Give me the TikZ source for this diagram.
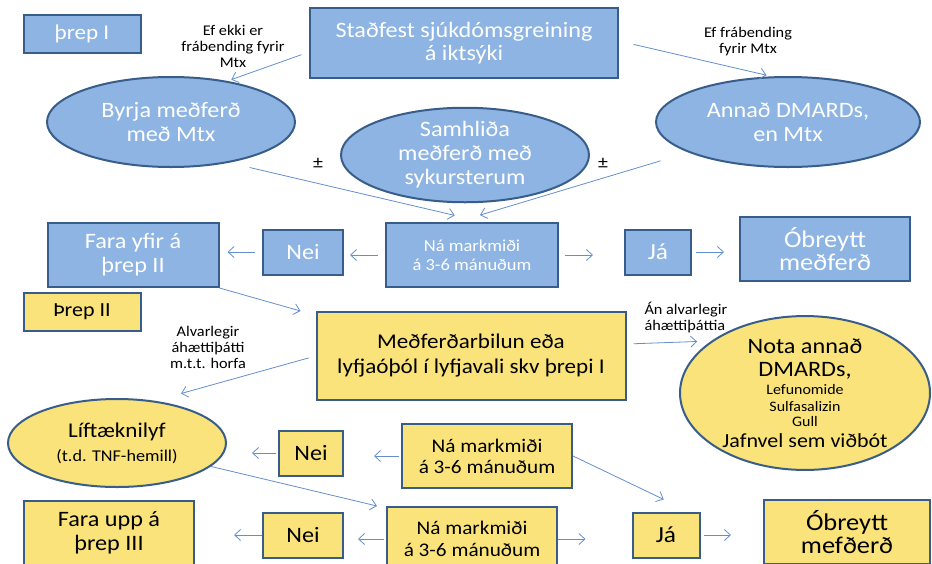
\documentclass[tikz,border=0pt]{standalone}
\usepackage{fontspec}
\setmainfont{Carlito}[FakeStretch=1.1]
\usetikzlibrary{shapes.geometric,arrows.meta}
\definecolor{boxblue}{RGB}{141,180,226}
\definecolor{boxyellow}{RGB}{249,227,122}
\definecolor{edgeblue}{RGB}{56,93,138}
\definecolor{lineblue}{RGB}{100,143,206}
\begin{document}
\begin{tikzpicture}[x=1pt, y=-1pt,
  shape base/.style={draw=edgeblue, line width=2pt, align=center, inner sep=0pt},
  bluebox/.style={shape base, rectangle, fill=boxblue, text=white},
  yellowbox/.style={shape base, rectangle, fill=boxyellow, text=black},
  blueell/.style={shape base, ellipse, fill=boxblue, text=white},
  yellowell/.style={shape base, ellipse, fill=boxyellow, text=black},
  big/.style={font=\fontsize{22}{24}\selectfont},
  note/.style={align=center, font=\fontsize{14.8}{16}\selectfont},
  arr/.style={draw=lineblue, line width=0.8pt, -{Straight Barb[length=6pt,width=11pt]}}]
   \useasboundingbox (0,0) rectangle (932,563);
   \clip (0,0) rectangle (932,563);

   % Þrep I
   \begin{scope}[every node/.style={big}]
    \node[bluebox, minimum width=117pt, minimum height=38pt, font=\fontsize{21}{24}\selectfont] (threp1) at (82,34) {þrep I};
    \node[bluebox, minimum width=308pt, minimum height=70pt, font=\fontsize{22}{23}\selectfont] (stadfest) at (464,43) {Staðfest sjúkdómsgreining\\á iktsýki};
    \node[blueell, minimum width=248pt, minimum height=90pt] (byrja) at (171,122) {Byrja meðferð\\með Mtx};
    \node[blueell, minimum width=264pt, minimum height=90pt] (annad) at (788,122) {Annað DMARDs,\\en Mtx};
    \node[blueell, minimum width=248pt, minimum height=88pt] (samhlida) at (465,155) {Samhliða\\meðferð með\\sykursterum};
    \node[bluebox, minimum width=172pt, minimum height=64pt, font=\fontsize{16.8}{19}\selectfont] (nama1) at (472,255) {Ná markmiði\\á 3-6 mánuðum};
    \node[bluebox, minimum width=80pt, minimum height=45pt] (nei1) at (303,252) {Nei};
    \node[bluebox, minimum width=171pt, minimum height=64pt] (fara1) at (133,255) {Fara yfir á\\þrep II};
    \node[bluebox, minimum width=66pt, minimum height=45pt, font=\fontsize{23}{24}\selectfont] (ja1) at (658,252) {Já};
    \node[bluebox, minimum width=170pt, minimum height=64pt, font=\fontsize{24}{23}\selectfont] (obr1) at (825,249) {Óbreytt\\meðferð};
   \end{scope}

   % Þrep II
   \begin{scope}[every node/.style={big}]
    \node[yellowbox, minimum width=117pt, minimum height=38pt, font=\fontsize{20}{24}\selectfont] (threp2) at (82,312) {Þrep II};
    \node[yellowbox, minimum width=309pt, minimum height=88pt, font=\fontsize{21}{25}\selectfont] (medf) at (471,356) {Meðferðarbilun eða\\lyfjaóþól í lyfjavali skv þrepi I};
    \node[yellowell, minimum width=250pt, minimum height=140pt, font=\fontsize{22}{23}\selectfont] (nota) at (805,393)
      {Nota annað\\DMARDs,\\[-5pt]{\fontsize{14.5}{15}\selectfont Lefunomide}\\[-6pt]{\fontsize{14.5}{15}\selectfont Sulfasalizin}\\[-8pt]{\fontsize{14.5}{15}\selectfont Gull}\\[-2pt]{\fontsize{20}{20}\selectfont Jafnvel sem viðbót}};
    \node[yellowell, minimum width=218pt, minimum height=88pt, font=\fontsize{21}{24}\selectfont] (lift) at (117,443) {Líftæknilyf\\{\fontsize{16.5}{16}\selectfont (t.d. TNF-hemill)}};
    \node[yellowbox, minimum width=64pt, minimum height=45pt] (nei2) at (311,453) {Nei};
    \node[yellowbox, minimum width=170pt, minimum height=64pt, font=\fontsize{19.3}{21}\selectfont] (nama2) at (487,456) {Ná markmiði\\á 3-6 mánuðum};
    \node[yellowbox, minimum width=170pt, minimum height=64pt] (fara3) at (109,533) {Fara upp á\\þrep III};
    \node[yellowbox, minimum width=80pt, minimum height=45pt] (nei3) at (303,535) {Nei};
    \node[yellowbox, minimum width=170pt, minimum height=64pt, font=\fontsize{19.3}{22}\selectfont] (nama3) at (472,539) {Ná markmiði\\á 3-6 mánuðum};
    \node[yellowbox, minimum width=67pt, minimum height=45pt, font=\fontsize{23}{24}\selectfont] (ja3) at (666,535) {Já};
    \node[yellowbox, minimum width=166pt, minimum height=64pt, font=\fontsize{24}{23}\selectfont] (obr2) at (847,532) {Óbreytt\\mefðerð};
   \end{scope}

   % labels
   \node[note] (lblekki) at (233,46) {Ef ekki er\\frábending fyrir\\Mtx};
   \node[note] (lblfrab) at (748,42) {Ef frábending\\fyrir Mtx};
   \node[font=\fontsize{18}{18}\selectfont] (pmleft) at (318,163) {±};
   \node[font=\fontsize{18}{18}\selectfont] (pmright) at (603,163) {±};
   \node[note] (lblalv) at (208,347) {Alvarlegir\\áhættiþátti\\m.t.t. horfa};
   \node[note, align=left, anchor=west] (lblan) at (641,318) {Án alvarlegir\\áhættiþáttia};

   % connectors
   \begin{scope}[every path/.style={arr}]
    \draw[shorten <=8pt, shorten >=4pt] ([yshift=-9pt]stadfest.west) -- (byrja.36);
    \draw[shorten <=15pt, shorten >=5pt] ([yshift=2pt]stadfest.east) -- (annad.110);
    \draw[shorten <=21pt, shorten >=29pt] (byrja.-35) -- ([xshift=11pt]nama1.north);
    \draw[shorten <=29pt, shorten >=24pt] (annad.197) -- ([xshift=-15pt]nama1.north);
    \draw[shorten <=7pt, shorten >=6pt] (nama1.west) -- (nama1.west -| nei1.east);
    \draw[shorten <=7pt, shorten >=8pt] (nei1.west) -- (nei1.west -| fara1.east);
    \draw[shorten <=6pt, shorten >=31pt] (nama1.east) -- (nama1.east -| ja1.west);
    \draw[shorten <=4pt, shorten >=15pt] (ja1.east) -- (ja1.east -| obr1.west);
    \draw (fara1.south east) -- ([xshift=-15pt]medf.north west);
    \draw[shorten <=7pt, shorten >=27pt] (medf.west) -- (lift.48);
    \draw[shorten <=7pt, shorten >=14pt] ([yshift=12pt]medf.east) -- (nota.151);
    \draw[shorten <=2pt, shorten >=25pt] (nei2.west) -- (nei2.west -| lift.east);
    \draw[shorten <=2pt, shorten >=30pt] (nama2.west) -- (nama2.west -| nei2.east);
    \draw[shorten >=28pt] (nama2.east) -- ([xshift=23pt]ja3.north);
    \draw (lift.-14) -- ([xshift=-9pt]nama3.north west);
    \draw[shorten <=2pt, shorten >=14pt] (nama3.west) -- (nama3.west -| nei3.east);
    \draw[shorten >=39pt] (nei3.west) -- (nei3.west -| fara3.east);
    \draw[shorten >=46pt] (nama3.east) -- (nama3.east -| ja3.west);
    \draw[shorten <=3pt, shorten >=32pt] (ja3.east) -- (ja3.east -| obr2.west);
   \end{scope}
\end{tikzpicture}
\end{document}
